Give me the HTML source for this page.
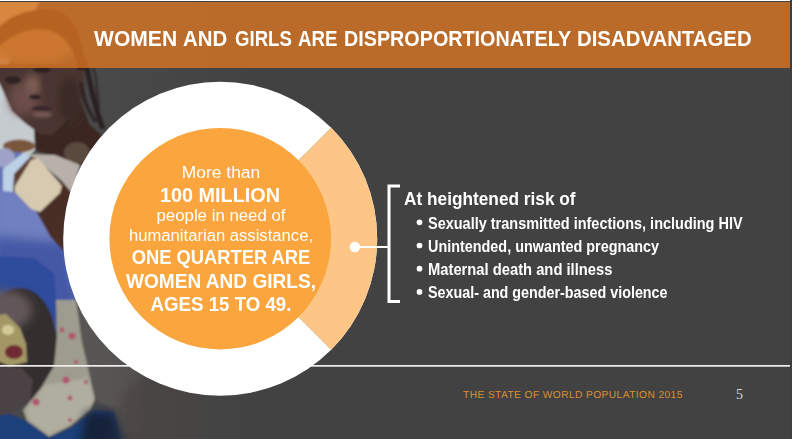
<!DOCTYPE html>
<html><head><meta charset="utf-8">
<style>
html,body{margin:0;padding:0;}
body{width:792px;height:439px;overflow:hidden;background:#424242;position:relative;font-family:"Liberation Sans",sans-serif;}
.abs{position:absolute;}
#photo{left:0;top:0;width:792px;height:439px;}
#hdr{left:0;top:2px;width:790px;height:66px;background:rgba(216,118,35,0.8);}
#topw{left:0;top:0;width:790px;height:1px;background:#fff;}
#topd{left:0;top:1px;width:792px;height:1px;background:#3c4144;}
#rightd{left:790px;top:0;width:2px;height:439px;background:#3c4043;}
#title{left:0;top:24.5px;width:792px;height:28px;font-size:21.4px;font-weight:bold;color:#fff;white-space:nowrap;line-height:28px;}
#title span{position:absolute;top:0;transform-origin:0 0;}
#donut{left:0;top:0;}
.ct{color:#fff;white-space:nowrap;text-align:center;left:120.8px;width:200px;}
.r{font-size:16px;}
.b{font-size:18.5px;font-weight:bold;}
#h2{left:404px;top:186.6px;font-size:18.6px;font-weight:bold;color:#fff;white-space:nowrap;line-height:24px;transform-origin:0 0;transform:scaleX(0.928);}
.li{left:428px;font-size:16.4px;font-weight:bold;color:#fff;white-space:nowrap;line-height:20px;transform-origin:0 0;}
#foot{left:463.1px;top:386.6px;font-size:10.2px;color:#dd8f2e;letter-spacing:0.42px;white-space:nowrap;line-height:16px;transform-origin:0 0;transform:rotate(0.03deg);}
#pn{left:736.1px;top:386.3px;font-family:"Liberation Serif",serif;font-size:14px;color:#d8d8d8;line-height:18px;}
</style></head><body>
<svg id="photo" class="abs" width="792" height="439" viewBox="0 0 792 439">
<defs>
<filter id="b1" x="-5%" y="-5%" width="110%" height="110%"><feGaussianBlur stdDeviation="1.3"/></filter>
<filter id="b3" x="-20%" y="-20%" width="140%" height="140%"><feGaussianBlur stdDeviation="4"/></filter>
<filter id="b6" x="-30%" y="-30%" width="160%" height="160%"><feGaussianBlur stdDeviation="8"/></filter>
<linearGradient id="fadeR" x1="0" x2="1" y1="0" y2="0"><stop offset="0" stop-color="#424242" stop-opacity="0"/><stop offset="1" stop-color="#424242" stop-opacity="1"/></linearGradient>
<clipPath id="pc"><rect x="0" y="0" width="260" height="439"/></clipPath>
</defs>
<g clip-path="url(#pc)">
<g filter="url(#b1)">
<!-- base -->
<rect x="-5" y="-5" width="270" height="450" fill="#48484a"/>
<!-- light bg left -->
<polygon points="-5,-5 40,-5 30,30 10,60 0,84 14,112 34,128 45,140 30,155 -5,160" fill="#c6cbcf"/>
<polygon points="-5,-5 45,-5 30,14 8,24 -5,34" fill="#d6ccae"/>
<!-- blue cloth big -->
<polygon points="-5,150 20,150 64,190 75,260 74,330 40,330 -5,330" fill="#6475b6"/>
<polygon points="-5,190 40,190 62,215 66,240 -5,232" fill="#7080c0" filter="url(#b3)"/>
<polygon points="-5,238 66,244 76,300 74,332 40,332 -5,332" fill="#4459a6" filter="url(#b3)"/>
<polygon points="-5,256 34,258 54,274 58,322 30,306 -5,292" fill="#2d4c9c"/>
<!-- neck/shoulder dark skin -->
<polygon points="34,128 52,134 80,100 90,125 104,137 125,150 120,175 80,170 60,160 35,150" fill="#3b2822"/>
<ellipse cx="77" cy="153" rx="13" ry="11" fill="#5a483e"/>
<!-- brown object left -->
<ellipse cx="19" cy="146" rx="16" ry="6.5" fill="#7a563e"/>
<ellipse cx="5" cy="158" rx="10" ry="10" fill="#9ea2c6"/>
<!-- arm -->
<polygon points="35,209 64,178 74,190 70,220 64,252 50,236" fill="#4a2e26"/>
<!-- gray cloth -->
<polygon points="27,154 55,155 80,165 72,193 61,180 36,159" fill="#b7b1aa"/>
<!-- skin between -->
<polygon points="12,172 30,156 40,160 20,190 12,192" fill="#5c3c30"/>
<!-- bracelet -->
<polygon points="15,186 31,160 38,158 62,186 60,193 40,212 31,209 15,192" fill="#d8cab0"/>
<!-- wristband -->
<polygon points="3,169 23,153 31,156 14,174 13,192 3,191" fill="#bcd0e6"/>
<!-- forehead -->
<ellipse cx="34" cy="44" rx="44" ry="20" fill="#9a7862" filter="url(#b3)"/>
<!-- face -->
<polygon points="-5,64 83,64 84,76 83,92 77,106 66,121 52,135 40,134 25,123 12,111 0,84 -5,80" fill="#4c3632"/>
<ellipse cx="24" cy="98" rx="15" ry="17" fill="#6c4e48" filter="url(#b3)"/><ellipse cx="33" cy="84" rx="6" ry="10" fill="#85655c" filter="url(#b3)"/><ellipse cx="42" cy="114.5" rx="10" ry="3.2" fill="#725654" filter="url(#b1)"/><ellipse cx="35" cy="97" rx="6" ry="2.5" fill="#2e2020"/>
<ellipse cx="70" cy="100" rx="12" ry="24" fill="#3a2a28" filter="url(#b3)"/>
<ellipse cx="13" cy="80" rx="8" ry="4" fill="#2e2020"/><ellipse cx="42" cy="70" rx="9" ry="3" fill="#2e2020"/>
<ellipse cx="42" cy="108.5" rx="11" ry="2.2" fill="#38262a"/>
<!-- hair top (under header) -->
<path d="M-5,30 C10,14 30,8 50,9 C68,11 78,25 82,45 L88,70 L78,70 C74,48 64,34 46,30 C28,27 10,36 -5,50 Z" fill="#2e1f1f"/>
<!-- braids right -->
<path d="M85,60 C90,80 92,100 103,129" stroke="#2a2020" stroke-width="5.5" fill="none"/><path d="M81,82 C84,100 88,112 96,122" stroke="#2e2424" stroke-width="3.5" fill="none"/><path d="M93,66 C98,82 97,96 99,108" stroke="#332a2a" stroke-width="2.5" fill="none"/>
<!-- baby head -->
<ellipse cx="20" cy="345" rx="37" ry="57" fill="#342e2e"/>
<ellipse cx="4" cy="310" rx="28" ry="20" fill="#63565a" filter="url(#b3)"/>
<!-- yellow/red cloth -->
<polygon points="-5,316 6,314 20,328 26,344 27,362 10,366 -5,360" fill="#a39765"/>
<ellipse cx="14" cy="352" rx="9" ry="7" fill="#6e2a30"/><ellipse cx="8" cy="330" rx="6" ry="5" fill="#d4ca98"/>
<!-- hand -->
<polygon points="-5,366 22,368 33,380 30,402 10,414 -5,416" fill="#4c4244"/>
<!-- floral -->
<polygon points="56,300 76,300 79,318 82,342 90,374 95,399 90,410 70,426 49,437 27,421 23,410 41,388 54,366 57,336" fill="#9e9c8e"/>
<polygon points="45,385 88,378 94,399 89,409 70,425 49,435 29,420 26,410" fill="#b0ae9f" filter="url(#b1)"/>
<circle cx="66" cy="380" r="3.5" fill="#b0566e"/><circle cx="72" cy="336" r="3.5" fill="#b0566e"/><circle cx="36" cy="402" r="3.5" fill="#b0566e"/><circle cx="62" cy="330" r="2.4" fill="#b0566e"/><circle cx="70" cy="398" r="2.4" fill="#b0566e"/><circle cx="86" cy="382" r="2.1" fill="#b0566e"/><circle cx="70" cy="420" r="2.1" fill="#b0566e"/><circle cx="76" cy="362" r="2.1" fill="#b0566e"/>
<!-- gray cloth right -->
<polygon points="76,300 84,306 128,365 142,374 140,429 122,434 114,410 95,399 82,342" fill="#595755"/>
<ellipse cx="165" cy="415" rx="45" ry="45" fill="#4d4644" filter="url(#b6)"/>
<!-- blue bottom -->
<polygon points="-5,416 10,414 27,421 49,437 70,428 95,410 114,412 122,445 -5,445" fill="#1c3f7a"/>
<polygon points="86,412 114,412 124,445 80,445" fill="#18223a" filter="url(#b3)"/>
</g>
<!-- fade right -->
<rect x="100" y="0" width="160" height="439" fill="url(#fadeR)"/>
</g>
<rect x="0" y="365" width="790" height="1.7" fill="#efefef"/>
</svg>
<div id="hdr" class="abs"></div>
<div id="topw" class="abs"></div><div id="topd" class="abs"></div><div id="rightd" class="abs"></div>
<div id="title" class="abs"><span style="left:94.2px;transform:scaleX(0.9857)">WOMEN</span><span style="left:183.45px;transform:scaleX(0.9533)">AND</span><span style="left:235.2px;transform:scaleX(0.8694)">GIRLS</span><span style="left:297.6px;transform:scaleX(0.8718)">ARE</span><span style="left:343.5px;transform:scaleX(0.9232)">DISPROPORTIONATELY</span><span style="left:576.9px;transform:scaleX(0.9523)">DISADVANTAGED</span></div>
<svg id="donut" class="abs" width="792" height="439" viewBox="0 0 792 439">
<circle cx="220.2" cy="238.7" r="157" fill="#fff"/>
<path d="M220.2 238.7 L331.2 127.7 A157 157 0 0 1 331.2 349.7 Z" fill="#fdc686"/>
<path d="M298.5,160.4 L331.2,127.7 M298.5,317 L331.2,349.7" stroke="#b89a78" stroke-width="0.6" opacity="0.7"/>
<circle cx="220.2" cy="238.7" r="110.8" fill="#faa53d"/>
<circle cx="419.5" cy="222.3" r="2.85" fill="#fff"/><circle cx="419.5" cy="245.5" r="2.85" fill="#fff"/><circle cx="419.5" cy="268.7" r="2.85" fill="#fff"/><circle cx="419.5" cy="291.9" r="2.85" fill="#fff"/>
<path d="M400,185.9 H389 V301.6 H400" fill="none" stroke="#fff" stroke-width="3"/><path d="M355,247 H388" stroke="#fff" stroke-width="2.2"/><circle cx="354.9" cy="247" r="5.2" fill="#fff"/>
</svg>
<div class="abs ct r" style="top:163px;line-height:20px;transform:scaleX(1.09);" id="t1">More than</div>
<div class="abs ct b" style="top:183px;left:120.1px;line-height:24px;font-size:20.5px;transform:scaleX(0.9666);" id="t2">100 MILLION</div>
<div class="abs ct r" style="top:206px;line-height:20px;transform:scaleX(1.051);" id="t3">people in need of</div>
<div class="abs ct r" style="top:226.4px;line-height:20px;transform:scaleX(1.04);" id="t4">humanitarian assistance,</div>
<div class="abs ct b" style="top:245px;left:120.7px;line-height:24px;font-size:20px;transform:scaleX(0.9167);" id="t5">ONE QUARTER ARE</div>
<div class="abs ct b" style="top:269px;left:121.1px;line-height:24px;font-size:20px;transform:scaleX(0.953);" id="t6">WOMEN AND GIRLS,</div>
<div class="abs ct b" style="top:292px;left:120.95px;line-height:24px;font-size:20px;transform:scaleX(0.9335);" id="t7">AGES 15 TO 49.</div>
<div id="h2" class="abs">At heightened risk of</div>
<div class="abs li" id="l1" style="transform:scaleX(0.8835);top:212.5px;">Sexually transmitted infections, including HIV</div>
<div class="abs li" id="l2" style="transform:scaleX(0.8781);top:235.7px;">Unintended, unwanted pregnancy</div>
<div class="abs li" id="l3" style="transform:scaleX(0.8997);top:258.9px;">Maternal death and illness</div>
<div class="abs li" id="l4" style="transform:scaleX(0.8736);top:282.1px;">Sexual- and gender-based violence</div>
<div id="foot" class="abs">THE STATE OF WORLD POPULATION 2015</div>
<div id="pn" class="abs">5</div>
</body></html>
